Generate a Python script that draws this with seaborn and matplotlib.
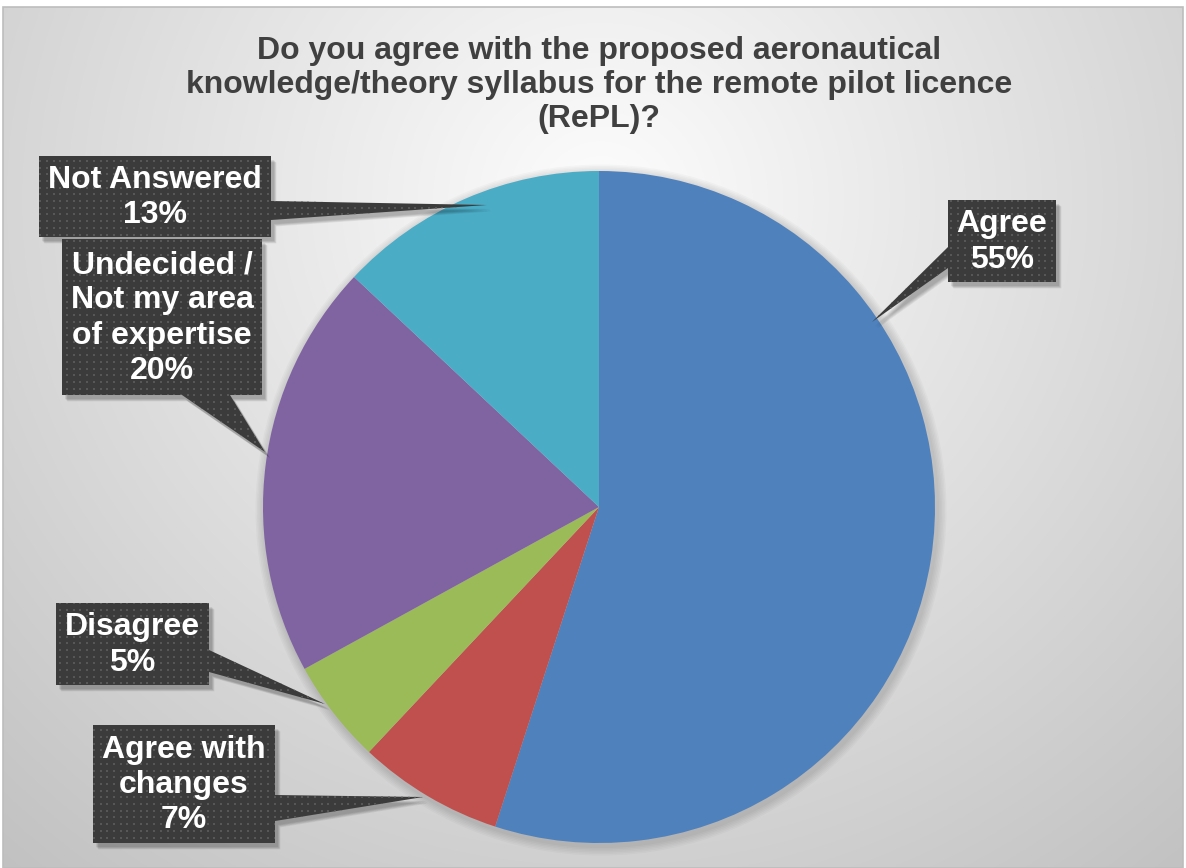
import numpy as np
import matplotlib
matplotlib.use("Agg")
import matplotlib.pyplot as plt
from matplotlib.patches import Polygon, Rectangle
import seaborn as sns

# Survey responses (percent of respondents)
categories = ["Agree", "Agree with changes", "Disagree",
              "Undecided / Not my area of expertise", "Not Answered"]
shares = [55, 7, 5, 20, 13]
label_texts = ["Agree", "Agree with\nchanges", "Disagree",
               "Undecided /\nNot my area\nof expertise", "Not Answered"]
slice_colors = ["#4F81BD", "#C0504D", "#9BBB59", "#8064A2", "#4BACC6"]
title_text = ("Do you agree with the proposed aeronautical\n"
              "knowledge/theory syllabus for the remote pilot licence\n"
              "(RePL)?")

sns.set_theme(style="white")
plt.rcParams["font.family"] = ["Liberation Sans", "DejaVu Sans"]

W, H = 1186, 868
fig = plt.figure(figsize=(W / 100, H / 100), dpi=100, facecolor="white")
ax = fig.add_axes([0, 0, 1, 1])

# chart area background: soft radial gray gradient
x0f, x1f, y0f, y1f = 3, 1183, 7, 868
yy, xx = np.mgrid[y0f:y1f, x0f:x1f]
d = np.sqrt(((xx - 600) / 700.0) ** 2 + ((yy - 200) / 680.0) ** 2)
val = np.clip(253 - 46 * d, 190, 253) / 255.0
bg = np.dstack([val, val, val])
ax.imshow(bg, extent=(x0f, x1f, y1f, y0f), origin="upper", aspect="auto",
          zorder=0, interpolation="bilinear")
ax.add_patch(Rectangle((x0f, y0f), x1f - x0f, y1f - y0f, fill=False,
                       edgecolor="#bdbdbd", lw=1.2, zorder=1))

# pie (y axis runs downward, so start at -90 and go counter-clockwise in data space)
cx, cy, R = 599, 507, 336
for k in range(6):
    ax.add_patch(plt.Circle((cx + 2, cy + 3), R + 2 + k * 1.5, color="black",
                            alpha=0.025, lw=0, zorder=1.5))
wedges, _ = ax.pie(shares, colors=slice_colors, startangle=-90, counterclock=True,
                   center=(cx, cy), radius=R, wedgeprops=dict(linewidth=0))
for w in wedges:
    w.set_zorder(2)

# callout boxes: box extents, pointer base points and pointer tip (pixels)
callouts = [
    dict(box=(948, 200, 1056, 282), base=[(948, 268), (948, 247)], side="left", tip=(872, 322)),
    dict(box=(93, 725, 275, 843), base=[(275, 795), (275, 821)], side="right", tip=(423, 797)),
    dict(box=(56, 603, 209, 685), base=[(209, 650), (209, 672)], side="right", tip=(325, 704)),
    dict(box=(62, 239, 262, 395), base=[(230, 395), (182, 395)], side="bottom", tip=(265, 452)),
    dict(box=(39, 156, 271, 237), base=[(271, 201), (271, 220)], side="right", tip=(487, 205)),
]


def callout_poly(c):
    bx0, by0, bx1, by1 = c["box"]
    (ax0, ay0), (ax1, ay1) = c["base"]
    tip = c["tip"]
    if c["side"] == "right":
        return [(bx0, by0), (bx1, by0), (bx1, ay0), tip, (bx1, ay1), (bx1, by1), (bx0, by1)]
    if c["side"] == "left":
        return [(bx0, by0), (bx1, by0), (bx1, by1), (bx0, by1), (bx0, ay0), tip, (bx0, ay1)]
    # bottom
    return [(bx0, by0), (bx1, by0), (bx1, by1), (ax0, by1), tip, (ax1, by1), (bx0, by1)]


# dotted texture grid used inside the callouts
gy, gx = np.mgrid[0:H:6.7, 0:W:6.7]
gx, gy = gx.ravel(), gy.ravel()

for c, txt, v in zip(callouts, label_texts, shares):
    pts = np.array(callout_poly(c), dtype=float)
    # soft drop shadow
    for k in range(5):
        ax.add_patch(Polygon(pts + np.array([3 + k * 0.6, 4 + k * 0.6]), closed=True,
                             facecolor="black", edgecolor="none", alpha=0.06, zorder=3))
    body = Polygon(pts, closed=True, facecolor="#3b3b3b", edgecolor="none", zorder=4)
    ax.add_patch(body)
    lo, hi = pts.min(axis=0), pts.max(axis=0)
    m = (gx >= lo[0]) & (gx <= hi[0]) & (gy >= lo[1]) & (gy <= hi[1])
    dots = ax.scatter(gx[m], gy[m], s=2.2, marker="s", color="#575757", lw=0, zorder=4.5)
    dots.set_clip_path(body)
    bx0, by0, bx1, by1 = c["box"]
    ax.text((bx0 + bx1) / 2, (by0 + by1) / 2 + 1, f"{txt}\n{v}%", ha="center", va="center",
            color="white", fontsize=23, fontweight="bold", linespacing=1.22,
            family=["Liberation Sans", "DejaVu Sans"], zorder=5)

ax.text(599, 85, title_text, ha="center", va="center", color="#404040",
        fontsize=23, fontweight="bold", linespacing=1.18,
        family=["Liberation Sans", "DejaVu Sans"], zorder=5)

ax.set_xlim(0, W)
ax.set_ylim(H, 0)
ax.set_aspect("auto")
ax.axis("off")
fig.savefig("out.png", dpi=100, facecolor="white")
